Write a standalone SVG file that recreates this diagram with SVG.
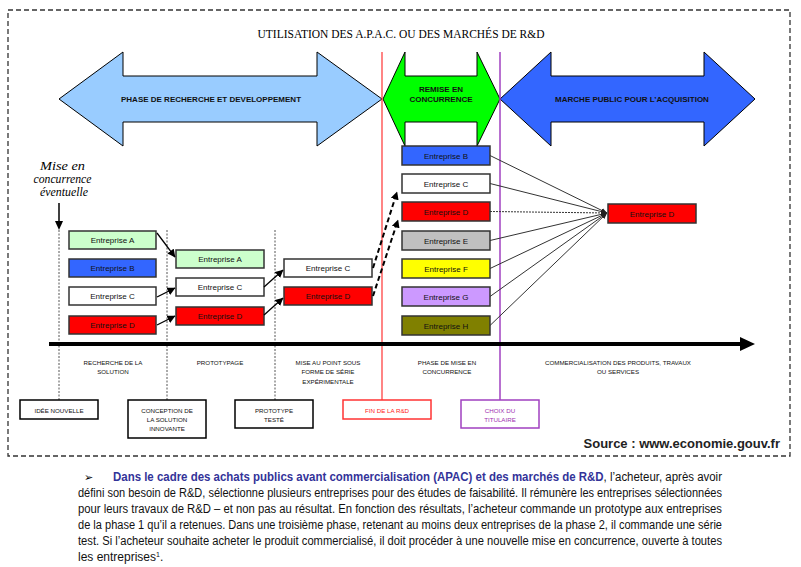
<svg xmlns="http://www.w3.org/2000/svg" width="801" height="567" viewBox="0 0 801 567">
<defs>
<marker id="ah" markerWidth="8" markerHeight="8" refX="7.5" refY="4" orient="auto" markerUnits="userSpaceOnUse"><path d="M0,0 L8,4 L0,8 Z" fill="#000"/></marker>
<marker id="ahs" markerWidth="6" markerHeight="6" refX="6" refY="3" orient="auto" markerUnits="userSpaceOnUse"><path d="M0,0.5 L6,3 L0,5.5 Z" fill="#222"/></marker>
</defs>
<style>
.box{stroke:#333;stroke-width:1.5}
.et{font-family:"Liberation Sans",Arial,sans-serif;font-size:8px;fill:#111;text-anchor:middle}
.lbl{font-family:"Liberation Sans",Arial,sans-serif;font-size:6.2px;fill:#111;text-anchor:middle}
.ph{font-family:"Liberation Sans",Arial,sans-serif;font-size:8px;font-weight:bold;fill:#111;text-anchor:middle}
.dot{stroke:#555;stroke-width:1;stroke-dasharray:2,1.5;fill:none}
.arr{stroke:#000;stroke-width:1.3;fill:none;marker-end:url(#ah)}
.darr{stroke:#000;stroke-width:2;stroke-dasharray:5,3;fill:none;marker-end:url(#ah)}
.fan{stroke:#333;stroke-width:1;fill:none;marker-end:url(#ahs)}
.mbox{fill:#fff;stroke:#000;stroke-width:1.5}
.para{font-family:"Liberation Sans Narrow","Liberation Sans",Arial,sans-serif;font-size:12px;fill:#111}
</style>
<rect x="0" y="0" width="801" height="567" fill="#fff"/>
<rect x="8" y="10" width="782" height="446" fill="none" stroke="#333" stroke-width="1.3" stroke-dasharray="5,3"/>
<text x="401" y="38" font-family="Liberation Serif,'Times New Roman',serif" font-size="12.5" fill="#000" text-anchor="middle" textLength="287" lengthAdjust="spacingAndGlyphs">UTILISATION DES A.P.A.C. OU DES MARCHÉS DE R&amp;D</text>

<g id="phase-rd">
<polygon points="59,99 123,52 123,76 317,76 317,52 382,99 317,146 317,122 123,122 123,146" fill="#99CCFF" stroke="#000" stroke-width="1"/>
<text class="ph" x="211" y="101.5">PHASE DE RECHERCHE ET DEVELOPPEMENT</text>
</g>
<g id="phase-remise">
<polygon points="383,99 405,52 405,76 477,76 477,52 500,99 477,146 477,122 405,122 405,146" fill="#00FF00" stroke="#000" stroke-width="1"/>
<text class="ph" x="441" y="92">REMISE EN</text>
<text class="ph" x="441" y="101.5">CONCURRENCE</text>
</g>
<g id="phase-marche">
<polygon points="500,99 551,52 551,76 704,76 704,52 755,99 704,146 704,122 551,122 551,146" fill="#3366FF" stroke="#000" stroke-width="1"/>
<text class="ph" x="632" y="101.5" font-size="7.4px">MARCHE PUBLIC POUR L’ACQUISITION</text>
</g>

<g id="jalons">
<line x1="382" y1="52" x2="382" y2="400" stroke="#FF3333" stroke-width="1.2"/>
<line x1="500" y1="52" x2="500" y2="400" stroke="#A040C0" stroke-width="1.5"/>
<line class="dot" x1="59" y1="230" x2="59" y2="400"/>
<line class="dot" x1="167" y1="230" x2="167" y2="400"/>
<line class="dot" x1="275" y1="230" x2="275" y2="400"/>
</g>

<g id="mise-en-concurrence">
<text font-family="Liberation Serif,'Times New Roman',serif" font-style="italic" font-size="12" fill="#000" text-anchor="middle">
<tspan x="64" y="170" textLength="45" lengthAdjust="spacingAndGlyphs">Mise en</tspan>
<tspan x="64" y="183" textLength="58" lengthAdjust="spacingAndGlyphs">concurrence</tspan>
<tspan x="64" y="196" textLength="48" lengthAdjust="spacingAndGlyphs">éventuelle</tspan>
</text>
<line x1="59" y1="203" x2="59" y2="222" stroke="#000" stroke-width="1.5"/>
<polygon points="55,221 63,221 59,230" fill="#000"/>
</g>

<g id="axe">
<line x1="49" y1="344" x2="742" y2="344" stroke="#000" stroke-width="4.2"/>
<polygon points="740,337 755,344 740,351" fill="#000"/>
</g>

<g id="col1-A"><rect class="box" x="69" y="231" width="87" height="18" fill="#CCFFCC"/><text class="et" x="112.5" y="243">Entreprise A</text></g>
<g id="col1-B"><rect class="box" x="69" y="259" width="87" height="18" fill="#3366FF"/><text class="et" x="112.5" y="271">Entreprise B</text></g>
<g id="col1-C"><rect class="box" x="69" y="287" width="87" height="18" fill="#FFFFFF"/><text class="et" x="112.5" y="299">Entreprise C</text></g>
<g id="col1-D"><rect class="box" x="69" y="316" width="87" height="18" fill="#FF0000"/><text class="et" x="112.5" y="328">Entreprise D</text></g>

<g id="col2-A"><rect class="box" x="176" y="250" width="88" height="18" fill="#CCFFCC"/><text class="et" x="220" y="262">Entreprise A</text></g>
<g id="col2-C"><rect class="box" x="176" y="278" width="88" height="18" fill="#FFFFFF"/><text class="et" x="220" y="290">Entreprise C</text></g>
<g id="col2-D"><rect class="box" x="176" y="307" width="88" height="18" fill="#FF0000"/><text class="et" x="220" y="319">Entreprise D</text></g>

<g id="col3-C"><rect class="box" x="284" y="259" width="88" height="18" fill="#FFFFFF"/><text class="et" x="328" y="271">Entreprise C</text></g>
<g id="col3-D"><rect class="box" x="284" y="287" width="88" height="18" fill="#FF0000"/><text class="et" x="328" y="299">Entreprise D</text></g>

<g id="col4-B"><rect class="box" x="402" y="146" width="88" height="19" fill="#3366FF"/><text class="et" x="446" y="158.5">Entreprise B</text></g>
<g id="col4-C"><rect class="box" x="402" y="174" width="88" height="19" fill="#FFFFFF"/><text class="et" x="446" y="186.5">Entreprise C</text></g>
<g id="col4-D"><rect class="box" x="402" y="202" width="88" height="19" fill="#FF0000"/><text class="et" x="446" y="214.5">Entreprise D</text></g>
<g id="col4-E"><rect class="box" x="402" y="231" width="88" height="19" fill="#C0C0C0"/><text class="et" x="446" y="243.5">Entreprise E</text></g>
<g id="col4-F"><rect class="box" x="402" y="259" width="88" height="19" fill="#FFFF00"/><text class="et" x="446" y="271.5">Entreprise F</text></g>
<g id="col4-G"><rect class="box" x="402" y="287" width="88" height="19" fill="#CC99FF"/><text class="et" x="446" y="299.5">Entreprise G</text></g>
<g id="col4-H"><rect class="box" x="402" y="316" width="88" height="19" fill="#808000"/><text class="et" x="446" y="328.5">Entreprise H</text></g>

<g id="final-D"><rect class="box" x="608" y="204" width="88" height="19" fill="#FF0000"/><text class="et" x="652" y="216.5">Entreprise D</text></g>

<g id="connectors">
<path class="arr" d="M157,233 L175,257"/>
<path class="arr" d="M157,297 L175,288"/>
<path class="arr" d="M157,325 L175,316"/>
<path class="arr" d="M264,287 L283,270"/>
<path class="arr" d="M264,315 L283,298"/>
<path class="darr" d="M373,268 L397,192"/>
<path class="darr" d="M373,296 L398,220"/>
<path class="fan" d="M490,155.5 L607,213"/>
<path class="fan" d="M490,183.5 L607,213"/>
<path class="fan" d="M490,211.5 L607,213" stroke-dasharray="2,1" stroke="#555"/>
<path class="fan" d="M490,240.5 L607,213"/>
<path class="fan" d="M490,268.5 L607,213"/>
<path class="fan" d="M490,296.5 L607,213"/>
<path class="fan" d="M490,325.5 L607,213"/>
</g>

<g id="labels-axe">
<text class="lbl"><tspan x="113" y="365">RECHERCHE DE LA</tspan><tspan x="113" y="374">SOLUTION</tspan></text>
<text class="lbl"><tspan x="220" y="365">PROTOTYPAGE</tspan></text>
<text class="lbl"><tspan x="328" y="365">MISE AU POINT SOUS</tspan><tspan x="328" y="374">FORME DE SÉRIE</tspan><tspan x="328" y="384">EXPÉRIMENTALE</tspan></text>
<text class="lbl"><tspan x="447" y="365">PHASE DE MISE EN</tspan><tspan x="447" y="374">CONCURRENCE</tspan></text>
<text class="lbl"><tspan x="618" y="365">COMMERCIALISATION DES PRODUITS, TRAVAUX</tspan><tspan x="618" y="374">OU SERVICES</tspan></text>
</g>

<g id="idee-nouvelle"><rect class="mbox" x="20" y="400" width="78" height="19"/><text class="lbl" x="59" y="412.5">IDÉE NOUVELLE</text></g>
<g id="conception"><rect class="mbox" x="128" y="400" width="78" height="38"/><text class="lbl"><tspan x="167" y="412.5">CONCEPTION DE</tspan><tspan x="167" y="421.5">LA SOLUTION</tspan><tspan x="167" y="431">INNOVANTE</tspan></text></g>
<g id="prototype-teste"><rect class="mbox" x="235" y="400" width="78" height="28"/><text class="lbl"><tspan x="274" y="412.5">PROTOTYPE</tspan><tspan x="274" y="421.5">TESTÉ</tspan></text></g>
<g id="fin-rd"><rect x="343" y="400" width="88" height="19" fill="#fff" stroke="#FF3333" stroke-width="1.5"/><text class="lbl" x="387" y="412.5" style="fill:#FF2020">FIN DE LA R&amp;D</text></g>
<g id="choix-titulaire"><rect x="461" y="400" width="78" height="28" fill="#fff" stroke="#A040C0" stroke-width="1.5"/><text class="lbl" style="fill:#A030B0"><tspan x="500" y="412.5">CHOIX DU</tspan><tspan x="500" y="421.5">TITULAIRE</tspan></text></g>

<text x="780" y="448" font-family="Liberation Sans,Arial,sans-serif" font-size="13" font-weight="bold" fill="#222" text-anchor="end">Source : www.economie.gouv.fr</text>

<g id="paragraphe">
<text x="84" y="481" font-family="DejaVu Sans,sans-serif" font-size="11" fill="#000">➢</text>
<text class="para" x="113" y="481" textLength="609" lengthAdjust="spacingAndGlyphs"><tspan font-weight="bold" style="fill:#333399">Dans le cadre des achats publics avant commercialisation (APAC) et des marchés de R&amp;D</tspan>, l’acheteur, après avoir</text>
<text class="para" x="78" y="497" textLength="644" lengthAdjust="spacingAndGlyphs">défini son besoin de R&amp;D, sélectionne plusieurs entreprises pour des études de faisabilité. Il rémunère les entreprises sélectionnées</text>
<text class="para" x="78" y="513" textLength="644" lengthAdjust="spacingAndGlyphs">pour leurs travaux de R&amp;D – et non pas au résultat. En fonction des résultats, l’acheteur commande un prototype aux entreprises</text>
<text class="para" x="78" y="529" textLength="644" lengthAdjust="spacingAndGlyphs">de la phase 1 qu’il a retenues. Dans une troisième phase, retenant au moins deux entreprises de la phase 2, il commande une série</text>
<text class="para" x="78" y="545" textLength="644" lengthAdjust="spacingAndGlyphs">test. Si l’acheteur souhaite acheter le produit commercialisé, il doit procéder à une nouvelle mise en concurrence, ouverte à toutes</text>
<text class="para" x="78" y="561">les entreprises<tspan font-size="7" dy="-4">1</tspan><tspan dy="4">.</tspan></text>
</g>
</svg>
